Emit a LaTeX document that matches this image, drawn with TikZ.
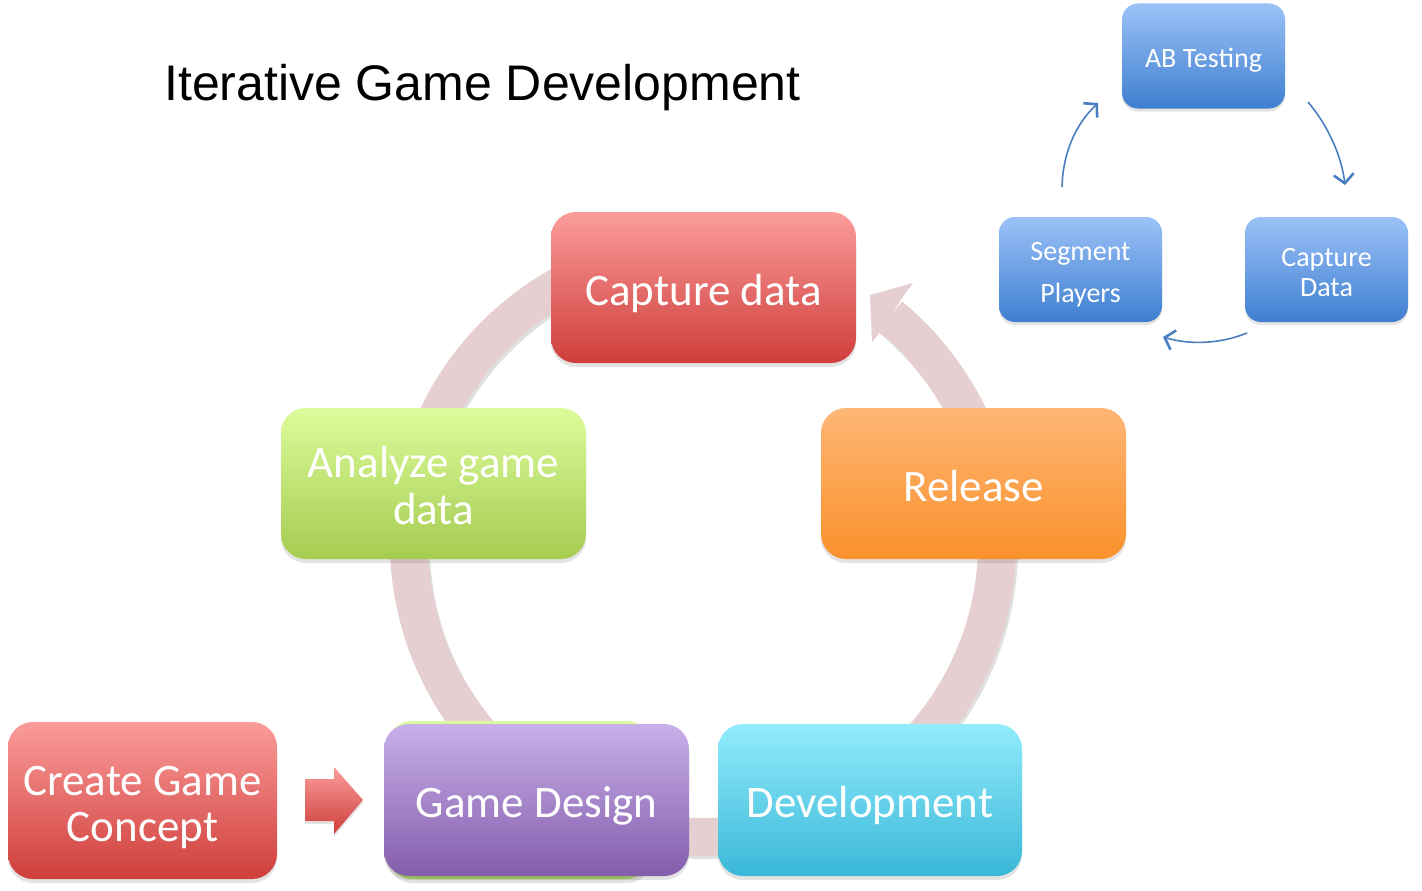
\documentclass[tikz,border=0pt]{standalone}
\usepackage{fontspec}
\setmainfont{Carlito}
\newfontfamily\titlefont{Liberation Sans}
\usetikzlibrary{shadows,arrows.meta}
\definecolor{redT}{RGB}{250,156,154}
\definecolor{redB}{RGB}{207,62,59}
\definecolor{greenT}{RGB}{220,252,156}
\definecolor{greenB}{RGB}{165,203,80}
\definecolor{orangeT}{RGB}{254,182,117}
\definecolor{orangeB}{RGB}{250,145,44}
\definecolor{purpleT}{RGB}{201,176,234}
\definecolor{purpleB}{RGB}{131,93,171}
\definecolor{cyanT}{RGB}{146,236,252}
\definecolor{cyanB}{RGB}{58,184,216}
\definecolor{blueT}{RGB}{155,194,248}
\definecolor{blueB}{RGB}{63,127,208}
\definecolor{ringc}{RGB}{230,207,208}
\definecolor{arrowblue}{RGB}{74,126,192}
\newcommand{\twol}[2]{\begin{tabular}[t]{@{}c@{}}#1\\#2\end{tabular}}
\tikzset{
  bigbox/.style={rectangle, rounded corners=25pt, inner sep=0pt, outer sep=0pt,
    text=white, align=center, font=\fontsize{45}{47}\selectfont,
    text height=35pt, text depth=0pt,
    drop shadow={shadow xshift=0pt, shadow yshift=-4pt, opacity=0.22}},
  smallbox/.style={rectangle, rounded corners=16pt, inner sep=0pt, outer sep=0pt,
    minimum width=163pt, minimum height=105pt,
    text=white, align=center, font=\fontsize{28}{30}\selectfont,
    text height=23pt, text depth=0pt, top color=blueT, bottom color=blueB,
    drop shadow={shadow xshift=0pt, shadow yshift=-3pt, opacity=0.22}},
  mainsize/.style={minimum width=305pt, minimum height=151pt},
  thinarrow/.style={draw=arrowblue, line width=1.6pt,
    -{Straight Barb[length=9pt,width=20pt,line width=2.6pt]}}
}
\begin{document}
\begin{tikzpicture}[x=1pt,y=-1pt]
\useasboundingbox (0,0) rectangle (1422,891);
\fill[white] (0,0) rectangle (1422,891);

% title
\node[anchor=base west, inner sep=0pt, font=\titlefont\fontsize{50}{60}\selectfont] (title) at (164,100) {Iterative Game Development};

% ring
\coordinate (C) at (703,543);
\draw[black, opacity=0.12, line width=38pt] ([xshift=2pt,yshift=-3pt]C) ++(100:294pt) arc[start angle=100, end angle=410.5, radius=294pt];
\draw[ringc, line width=38pt] (C) ++(100:294pt) arc[start angle=100, end angle=410.5, radius=294pt];
\fill[ringc] (870,295) -- (913,283) -- (902,298) -- (882,330) -- (872,342) -- cycle;

% green box behind game design
\node[bigbox, minimum width=265pt, minimum height=158pt, top color=greenT, bottom color=greenB] (gback) at (519.5,800) {};

% main boxes
\node[bigbox, mainsize, top color=redT, bottom color=redB] (cap) at (703.5,287.5) {Capture data};
\node[bigbox, mainsize, top color=greenT, bottom color=greenB, text depth=47pt] (ana) at (433.5,483.5) {\twol{Analyze game}{data}};
\node[bigbox, mainsize, top color=orangeT, bottom color=orangeB] (rel) at (973.5,483.5) {Release};
\node[bigbox, minimum width=305pt, minimum height=152pt, top color=purpleT, bottom color=purpleB] (gd) at (536.5,800) {Game Design};
\node[bigbox, minimum width=304pt, minimum height=152pt, top color=cyanT, bottom color=cyanB] (dev) at (870,800) {Development};
\node[bigbox, minimum width=269pt, minimum height=157pt, top color=redT, bottom color=redB, text depth=46pt, font=\fontsize{45}{46}\selectfont] (cgc) at (142.5,800.5) {\twol{Create Game}{Concept}};

% block arrow
\shade[top color=redT, bottom color=redB, drop shadow={shadow xshift=0pt, shadow yshift=-3pt, opacity=0.2}]
  (305,779) -- (334,779) -- (334,767) -- (363,800) -- (334,834) -- (334,821) -- (305,821) -- cycle;

% small cycle
\node[smallbox] (ab) at (1203.5,56) {AB Testing};
\node[smallbox, text depth=42pt, font=\fontsize{28}{42}\selectfont] (seg) at (1080.5,269.5) {\twol{Segment}{Players}};
\node[smallbox, text depth=30pt, font=\fontsize{28}{30}\selectfont] (cd) at (1326.5,269.5) {\twol{Capture}{Data}};

\coordinate (a1s) at (1062,187);
\coordinate (a1e) at (1098,103);
\coordinate (a2s) at (1308,102);
\coordinate (a2e) at (1345,185);
\coordinate (a3s) at (1247,333);
\coordinate (a3e) at (1163,337);
\draw[thinarrow] (a1s) .. controls (1063,152) and (1076,124) .. (a1e);
\draw[thinarrow] (a2s) .. controls (1325,122) and (1341,152) .. (a2e);
\draw[thinarrow] (a3s) .. controls (1220,344) and (1190,345) .. (a3e);
\end{tikzpicture}
\end{document}
